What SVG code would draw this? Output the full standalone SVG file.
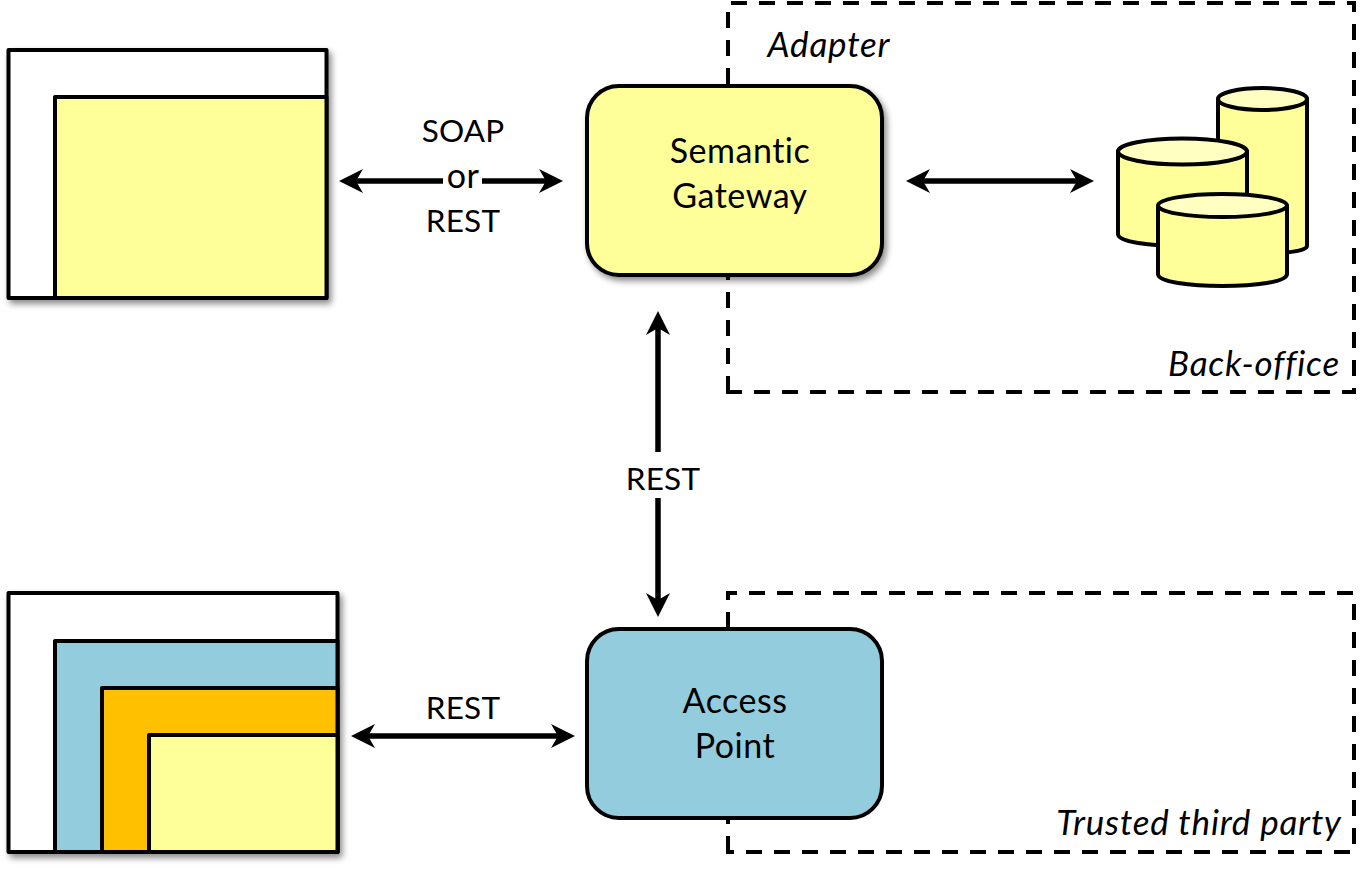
<svg xmlns="http://www.w3.org/2000/svg" width="1364" height="869" viewBox="0 0 1364 869">
<style>
.k{stroke:#000;stroke-width:4;stroke-linejoin:round}
.y{fill:#ffff99}
.t{font-family:Lato,"Open Sans",sans-serif;font-size:34px;letter-spacing:.5px;fill:#000;text-anchor:middle}
.p{font-size:31.500px;letter-spacing:.2px}
.i{font-style:italic;font-size:35px;letter-spacing:.8px}
.d{fill:none;stroke:#000;stroke-width:4;stroke-dasharray:16 12}
.c{fill:none;stroke:#000;stroke-width:5.500;marker-start:url(#a);marker-end:url(#a)}
.top{fill:#ffffc2}
</style>
<defs>
<marker id="a" viewBox="0 0 26 26" refX="8" refY="13" markerWidth="26" markerHeight="26" markerUnits="userSpaceOnUse" orient="auto-start-reverse"><path d="M0 1L24 13L0 25L7 13Z" fill="#000"/></marker>
<filter id="s" x="-10%" y="-10%" width="120%" height="120%"><feDropShadow dx="3" dy="4" stdDeviation="3" flood-color="#000" flood-opacity=".45"/></filter>
</defs>
<rect width="1364" height="869" fill="#fff"/>
<g id="backoffice-zone"><path class="d" d="M728 392V3H1354V392Z"/><text class="t i" x="829" y="57">Adapter</text><text class="t i" x="1254" y="376">Back-office</text></g>
<g id="third-party-zone"><path class="d" d="M728 852V593H1354V852Z"/><text class="t i" x="1199" y="835">Trusted third party</text></g>
<g id="connectors">
<path class="c" d="M355 181H547"/>
<path class="c" d="M922 181H1078"/>
<path class="c" d="M658 327V601"/>
<path class="c" d="M367 736H559"/>
</g>
<g id="labels">
<rect x="443" y="165" width="39" height="32" fill="#fff"/>
<rect x="620" y="452" width="84" height="46" fill="#fff"/>
<text class="t p" x="463" y="142">SOAP</text><text class="t" x="463" y="188">or</text><text class="t p" x="463" y="232">REST</text>
<text class="t p" x="663" y="490">REST</text>
<text class="t p" x="463" y="719">REST</text>
</g>
<g id="client-top">
<rect x="8.500" y="50" width="318" height="248" fill="#fff" class="k" filter="url(#s)"/>
<rect x="55" y="97" width="271.500" height="201" class="k y"/>
</g>
<g id="client-bottom">
<rect x="8.500" y="593" width="329" height="259" fill="#fff" class="k" filter="url(#s)"/>
<rect x="55" y="641" width="282.500" height="211" fill="#93cddd" class="k"/>
<rect x="102" y="688" width="235.500" height="164" fill="#ffc000" class="k"/>
<rect x="149" y="735" width="188.500" height="117" class="k y"/>
</g>
<g id="semantic-gateway">
<rect x="587" y="86" width="295" height="189" rx="32" class="k y" filter="url(#s)"/>
<text class="t" x="740" y="163">Semantic</text><text class="t" x="740" y="208">Gateway</text>
</g>
<g id="access-point">
<rect x="587" y="629" width="295" height="189" rx="32" fill="#93cddd" class="k"/>
<text class="t" x="735" y="713">Access</text><text class="t" x="735" y="758">Point</text>
</g>
<g id="databases">
<g id="db1"><path class="k y" d="M1218 99V246C1218 256 1307 256 1307 246V99Z"/><ellipse cx="1262.500" cy="99" rx="44.500" ry="11" class="k top"/></g>
<g id="db2"><path class="k y" d="M1118 151V234C1118 250 1247 250 1247 234V151Z"/><ellipse cx="1182.500" cy="151.500" rx="64.500" ry="13" class="k top"/></g>
<g id="db3"><path class="k y" d="M1158 206V274C1158 290 1287 290 1287 274V206Z"/><ellipse cx="1222.500" cy="205.500" rx="64.500" ry="11.500" class="k top"/></g>
</g>
</svg>
